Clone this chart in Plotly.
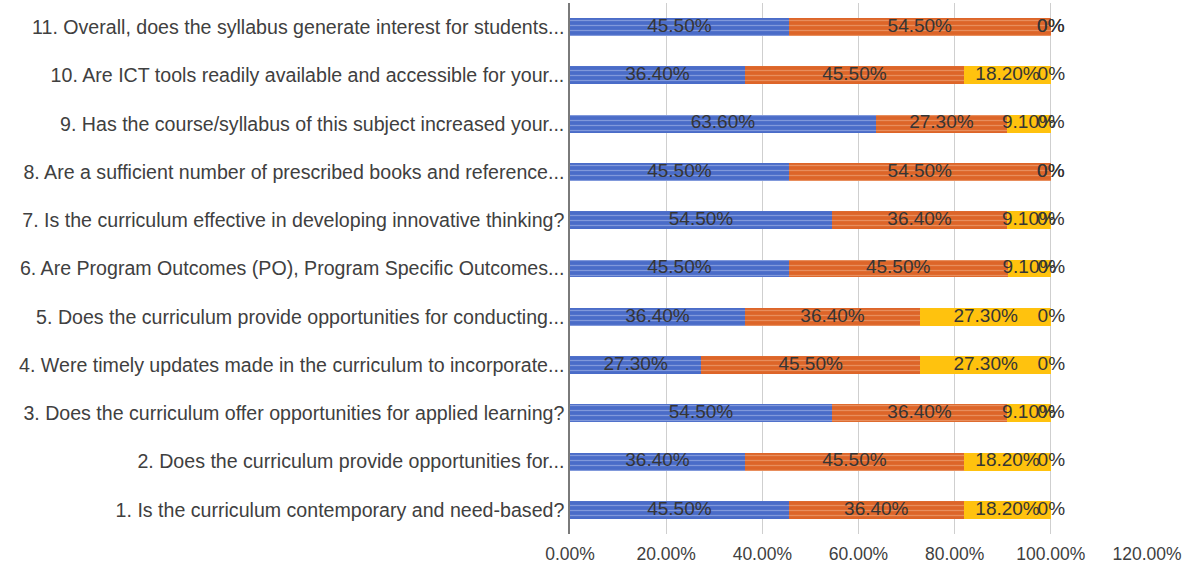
import plotly.graph_objects as go

categories = [
    "1. Is the curriculum contemporary and need-based?",
    "2. Does the curriculum provide opportunities for...",
    "3. Does the curriculum offer opportunities for applied learning?",
    "4. Were timely updates made in the curriculum to incorporate...",
    "5. Does the curriculum provide opportunities for conducting...",
    "6. Are Program Outcomes (PO), Program Specific Outcomes...",
    "7. Is the curriculum effective in developing innovative thinking?",
    "8. Are a sufficient number of prescribed books and reference...",
    "9. Has the course/syllabus of this subject increased your...",
    "10. Are ICT tools readily available and accessible for your...",
    "11. Overall, does the syllabus generate interest for students...",
]
series_names = ["Series 1", "Series 2", "Series 3", "Series 4"]
s1 = [0.455, 0.364, 0.545, 0.273, 0.364, 0.455, 0.545, 0.455, 0.636, 0.364, 0.455]
s2 = [0.364, 0.455, 0.364, 0.455, 0.364, 0.455, 0.364, 0.545, 0.273, 0.455, 0.545]
s3 = [0.182, 0.182, 0.091, 0.273, 0.273, 0.091, 0.091, 0.0, 0.091, 0.182, 0.0]
s4 = [0.0] * 11
tick_vals = [0, 0.2, 0.4, 0.6, 0.8, 1.0, 1.2]
tick_text = ["0.00%", "20.00%", "40.00%", "60.00%", "80.00%", "100.00%", "120.00%"]

colors = ["#4A6CC8", "#DD6529", "#FFC20E", "#A5A5A5"]
pattern_fg = ["#B8C6EE", "#F4B892", None, None]

FONT = "Liberation Sans, Arial"

def fmt(v):
    return "0%" if v == 0 else f"{v*100:.2f}%"

fig = go.Figure()
all_series = [s1, s2, s3, s4]
for i, (name, vals) in enumerate(zip(series_names, all_series)):
    marker = dict(color=colors[i], line=dict(width=0))
    if pattern_fg[i]:
        marker["pattern"] = dict(shape="-", fgcolor=pattern_fg[i], size=5, solidity=0.25, fillmode="overlay")
    fig.add_trace(go.Bar(y=categories, x=vals, orientation="h", name=name,
                         marker=marker, width=0.37, hoverinfo="skip"))

# data labels centered in each segment
cum = [0.0] * len(categories)
for vals in all_series:
    centers = [c + v / 2 for c, v in zip(cum, vals)]
    fig.add_trace(go.Scatter(y=categories, x=centers, mode="text",
                             text=[fmt(v) for v in vals],
                             textfont=dict(family=FONT, size=19, color="#353535"),
                             showlegend=False, hoverinfo="skip", cliponaxis=False))
    cum = [c + v for c, v in zip(cum, vals)]

fig.update_layout(
    barmode="stack",
    width=1190, height=573,
    margin=dict(l=570, r=43, t=3, b=39, autoexpand=False),
    paper_bgcolor="white", plot_bgcolor="white",
    showlegend=False,
    font=dict(family=FONT, size=19, color="#404040"),
    xaxis=dict(range=[0, 1.2], tickvals=tick_vals, ticktext=tick_text,
               showgrid=True, gridcolor="#CFCFCF", gridwidth=1, zeroline=False,
               tickfont=dict(size=17.5, color="#404040"), ticks="", showline=False,
               ticklabelstandoff=7, automargin=False),
    yaxis=dict(categoryorder="array", categoryarray=categories,
               range=[-0.5, 10.5], showline=True, linecolor="#7a7a7a", linewidth=1.5,
               ticks="", ticklabelstandoff=0,
               tickfont=dict(size=19.6, color="#404040"), showgrid=False,
               automargin=False),
)
fig.write_html("out.html", config={"displayModeBar": False},
               post_script="document.body.style.margin='0px';document.body.style.overflow='hidden';")
